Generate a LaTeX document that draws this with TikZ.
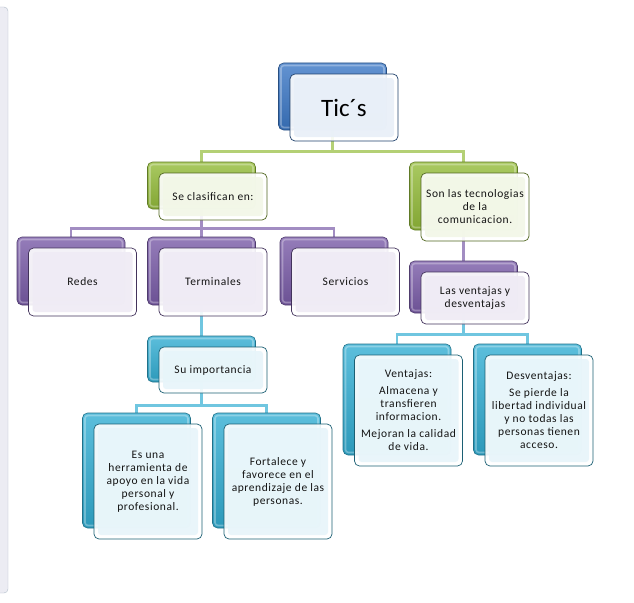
\documentclass[tikz,border=0pt]{standalone}
\usepackage{fontspec}
\usepackage{tikz}
\usetikzlibrary{positioning,calc,backgrounds}
\setmainfont{Carlito}
\newfontfamily\boxfont{Carlito}[LetterSpace=5]
\definecolor{tblue}{HTML}{3C78C6}
\definecolor{tgreen}{HTML}{94BC3A}
\definecolor{tpurple}{HTML}{7A5CA8}
\definecolor{tcyan}{HTML}{33AED3}
\definecolor{panelfill}{HTML}{ECECF3}
\definecolor{panelline}{HTML}{B0BCC8}
\definecolor{textdark}{HTML}{141414}

\begin{document}
\begin{tikzpicture}[x=1pt, y=-1pt,
    backbox/.style={rounded corners=5pt, minimum width=108pt, inner sep=0pt,
        draw=#1!65!black, line width=0.6pt,
        top color=#1!80!white, bottom color=#1!88!black,
        path picture={\draw[white, opacity=0.3, line width=1.6pt, rounded corners=3pt]
            ([shift={(2.5pt,-2.5pt)}]path picture bounding box.north west) rectangle
            ([shift={(-2.5pt,2.5pt)}]path picture bounding box.south east);}},
    frontbox/.style={rounded corners=5pt, minimum width=108pt, inner sep=2pt,
        draw=#1!55!black, line width=0.7pt, fill=white, fill opacity=0.9, text opacity=1,
        align=center, text=textdark, font=\boxfont\fontsize{11.5}{13}\selectfont,
        path picture={\fill[#1!12!white, rounded corners=3pt]
            ([shift={(4pt,-4pt)}]path picture bounding box.north west) rectangle
            ([shift={(-4pt,4pt)}]path picture bounding box.south east);}},
    link/.style={draw=#1!70!white, line width=2.8pt}]

    \useasboundingbox (0,0) rectangle (634,602);

    % side panel
    \draw[draw=panelline, fill=panelfill, rounded corners=4pt] (-10,7) rectangle (8,593);

    % root
    \node[backbox=tblue, minimum height=67pt] (tics-b) at (332.5,96.5) {};
    \node[frontbox=tblue, minimum height=67pt, font=\fontsize{25}{30}\selectfont, text=black] (tics) at (344,107.5) {Tic´s};

    % second level
    \node[backbox=tgreen, minimum height=47pt] (clas-b) at (201.5,185.5) {};
    \node[frontbox=tgreen, minimum height=47pt] (clas) at (213,196.5) {Se clasifican en:};
    \node[backbox=tgreen, minimum height=68pt] (son-b) at (463.5,196) {};
    \node[frontbox=tgreen, minimum height=68pt] (son) at (475,207) {Son las tecnologias\\de la\\comunicacion.};

    % kinds
    \node[backbox=tpurple, minimum height=68pt] (redes-b) at (71,271) {};
    \node[frontbox=tpurple, minimum height=68pt] (redes) at (82.5,282) {Redes};
    \node[backbox=tpurple, minimum height=68pt] (term-b) at (201.5,271) {};
    \node[frontbox=tpurple, minimum height=68pt] (term) at (213,282) {Terminales};
    \node[backbox=tpurple, minimum height=68pt] (serv-b) at (334,271) {};
    \node[frontbox=tpurple, minimum height=68pt] (serv) at (345.5,282) {Servicios};
    \node[backbox=tpurple, minimum height=52pt] (vent-b) at (463.5,287) {};
    \node[frontbox=tpurple, minimum height=52pt] (vent) at (475,298) {Las ventajas y\\desventajas};

    % importance branch
    \node[backbox=tcyan, minimum height=46pt] (imp-b) at (201.5,359) {};
    \node[frontbox=tcyan, minimum height=46pt] (imp) at (213,370) {Su importancia};
    \node[backbox=tcyan, minimum height=115pt] (esuna-b) at (136.5,470.5) {};
    \node[frontbox=tcyan, minimum height=115pt] (esuna) at (148,481.5) {Es una\\herramienta de\\apoyo en la vida\\personal y\\profesional.};
    \node[backbox=tcyan, minimum height=115pt] (fort-b) at (266.5,470.5) {};
    \node[frontbox=tcyan, minimum height=115pt] (fort) at (278,481.5) {Fortalece y\\favorece en el\\aprendizaje de las\\personas.};

    % pros and cons
    \node[backbox=tcyan, minimum height=111pt] (pro-b) at (397,399.5) {};
    \node[frontbox=tcyan, minimum height=111pt] (pro) at (408.5,410.5) {Ventajas:\\[4pt]Almacena y\\transfieren\\informacion.\\[4pt]Mejoran la calidad\\de vida.};
    \node[backbox=tcyan, minimum height=111pt] (contra-b) at (527.5,399.5) {};
    \node[frontbox=tcyan, minimum height=111pt] (contra) at (539,410.5) {Desventajas:\\[4pt]Se pierde la\\libertad individual\\y no todas las\\personas tienen\\acceso.};

    % connectors
    \begin{scope}[on background layer]
        \draw[link=tgreen] (tics-b.south) -- ++(0,21) coordinate (gbus) -| (clas-b.north);
        \draw[link=tgreen] (gbus) -| (son-b.north);
        \draw[link=tpurple] (clas-b.south) -- ++(0,19) coordinate (pbus) -| (redes-b.north);
        \draw[link=tpurple] (pbus) -| (term-b.north);
        \draw[link=tpurple] (pbus) -| (serv-b.north);
        \draw[link=tpurple] (son-b.south) -- (vent-b.north);
        \draw[link=tcyan] (term-b.south) -- (imp-b.north);
        \draw[link=tcyan] (imp-b.south) -- ++(0,23) coordinate (cbus) -| (esuna-b.north);
        \draw[link=tcyan] (cbus) -| (fort-b.north);
        \draw[link=tcyan] (vent-b.south) -- ++(0,21) coordinate (vbus) -| (pro-b.north);
        \draw[link=tcyan] (vbus) -| (contra-b.north);
    \end{scope}
\end{tikzpicture}
\end{document}
